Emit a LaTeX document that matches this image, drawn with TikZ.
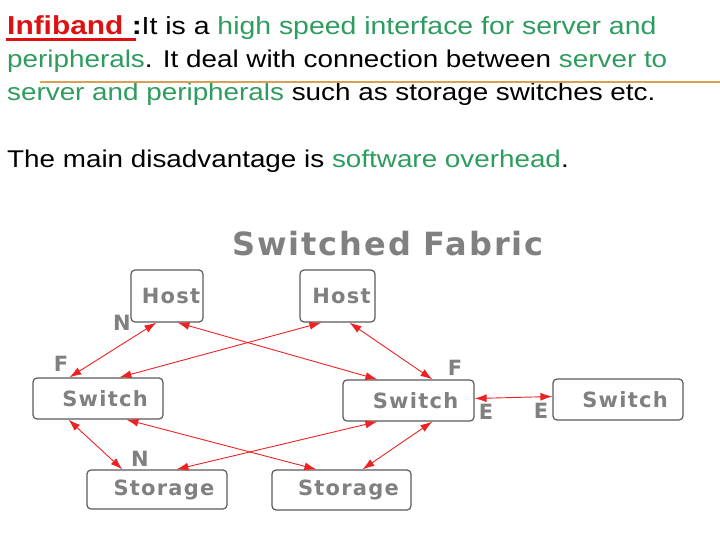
\documentclass[tikz,border=0pt]{standalone}
\usepackage{fontspec}
\setmainfont{Liberation Sans}[FakeStretch=1.15]
\newfontfamily\figfont{DejaVu Sans}[LetterSpace=6]
\usetikzlibrary{arrows.meta}
\definecolor{grn}{HTML}{2E9C5F}
\definecolor{ired}{HTML}{DD1111}
\definecolor{lgray}{HTML}{808080}
\definecolor{bgray}{HTML}{5A5A5A}
\definecolor{orng}{HTML}{D9A055}
\definecolor{lnk}{HTML}{EE2222}
\begin{document}
\begin{tikzpicture}[x=1pt,y=-1pt,
  box/.style={draw=bgray, line width=1.2pt, rounded corners=4pt, fill=white, inner sep=0pt,
    font=\figfont\bfseries\fontsize{21}{21}\selectfont, text=lgray},
  link/.style={draw=lnk, line width=0.9pt, <->, >={Latex[length=12pt,width=8pt]}},
  port/.style={font=\figfont\bfseries\fontsize{21}{21}\selectfont, text=lgray, inner sep=0pt},
  txt/.style={anchor=base west, inner sep=0pt, font=\fontsize{24.2}{28}\selectfont}]
\useasboundingbox (0,0) rectangle (720,540);
% text
\node[txt] (l1) at (7,35) {{\fontsize{26}{28}\selectfont\bfseries\textcolor{ired}{Infiband }:}\fontsize{24.7}{28}\selectfont It is a \textcolor{grn}{high speed interface for server and}};
\node[txt] (l2) at (7,68) {\textcolor{grn}{peripherals}. It deal with connection between \textcolor{grn}{server to}};
\node[txt] (l3) at (7,101) {\textcolor{grn}{server and peripherals} such as storage switches etc.};
\node[txt] (l4) at (7,168) {The main disadvantage is \textcolor{grn}{software overhead}.};
\draw[ired, line width=3pt] (6,39.5) -- (136,39.5);
\draw[orng, line width=2pt] (40,82.5) -- (720,82.5);
% diagram
\node[font=\figfont\bfseries\fontsize{32}{32}\selectfont, text=lgray] (title) at (388,244) {Switched Fabric};
\node[box, minimum width=72pt, minimum height=52pt] (h1) at (167,296) {\hspace*{8pt}Host};
\node[box, minimum width=75pt, minimum height=52pt] (h2) at (337.5,296) {\hspace*{8pt}Host};
\node[box, minimum width=130pt, minimum height=41pt] (s1) at (98,398.5) {\hspace*{14pt}Switch};
\node[box, minimum width=131pt, minimum height=41pt] (s2) at (408.5,400.5) {\hspace*{14pt}Switch};
\node[box, minimum width=130pt, minimum height=41pt] (s3) at (618,399.5) {\hspace*{14pt}Switch};
\node[box, minimum width=140pt, minimum height=39pt] (st1) at (157,489.5) {\hspace*{14pt}Storage};
\node[box, minimum width=139pt, minimum height=40pt] (st2) at (341.5,490) {\hspace*{14pt}Storage};
% links
\draw[link] ([xshift=26pt]h1.south west) -- ([xshift=37pt]s1.north west);
\draw[link] ([xshift=47pt]h1.south west) -- ([xshift=35pt]s2.north west);
\draw[link] ([xshift=22pt]h2.south west) -- ([xshift=87pt]s1.north west);
\draw[link] ([xshift=50pt]h2.south west) -- ([xshift=90pt]s2.north west);
\draw[link] ([yshift=2pt]s2.east) -- ([yshift=3pt]s3.west);
\draw[link] ([xshift=36pt]s1.south west) -- ([xshift=36pt]st1.north west);
\draw[link] ([xshift=94pt]s1.south west) -- ([xshift=45pt]st2.north west);
\draw[link] ([xshift=35pt]s2.south west) -- ([xshift=90pt]st1.north west);
\draw[link] ([xshift=90pt]s2.south west) -- ([xshift=91pt]st2.north west);
% port labels
\node[port] (n1) at (122,323) {N};
\node[port] (f1) at (61,364) {F};
\node[port] (f2) at (455,368) {F};
\node[port] (e1) at (486,412) {E};
\node[port] (e2) at (541,411) {E};
\node[port] (n2) at (140,459) {N};
\end{tikzpicture}
\end{document}
